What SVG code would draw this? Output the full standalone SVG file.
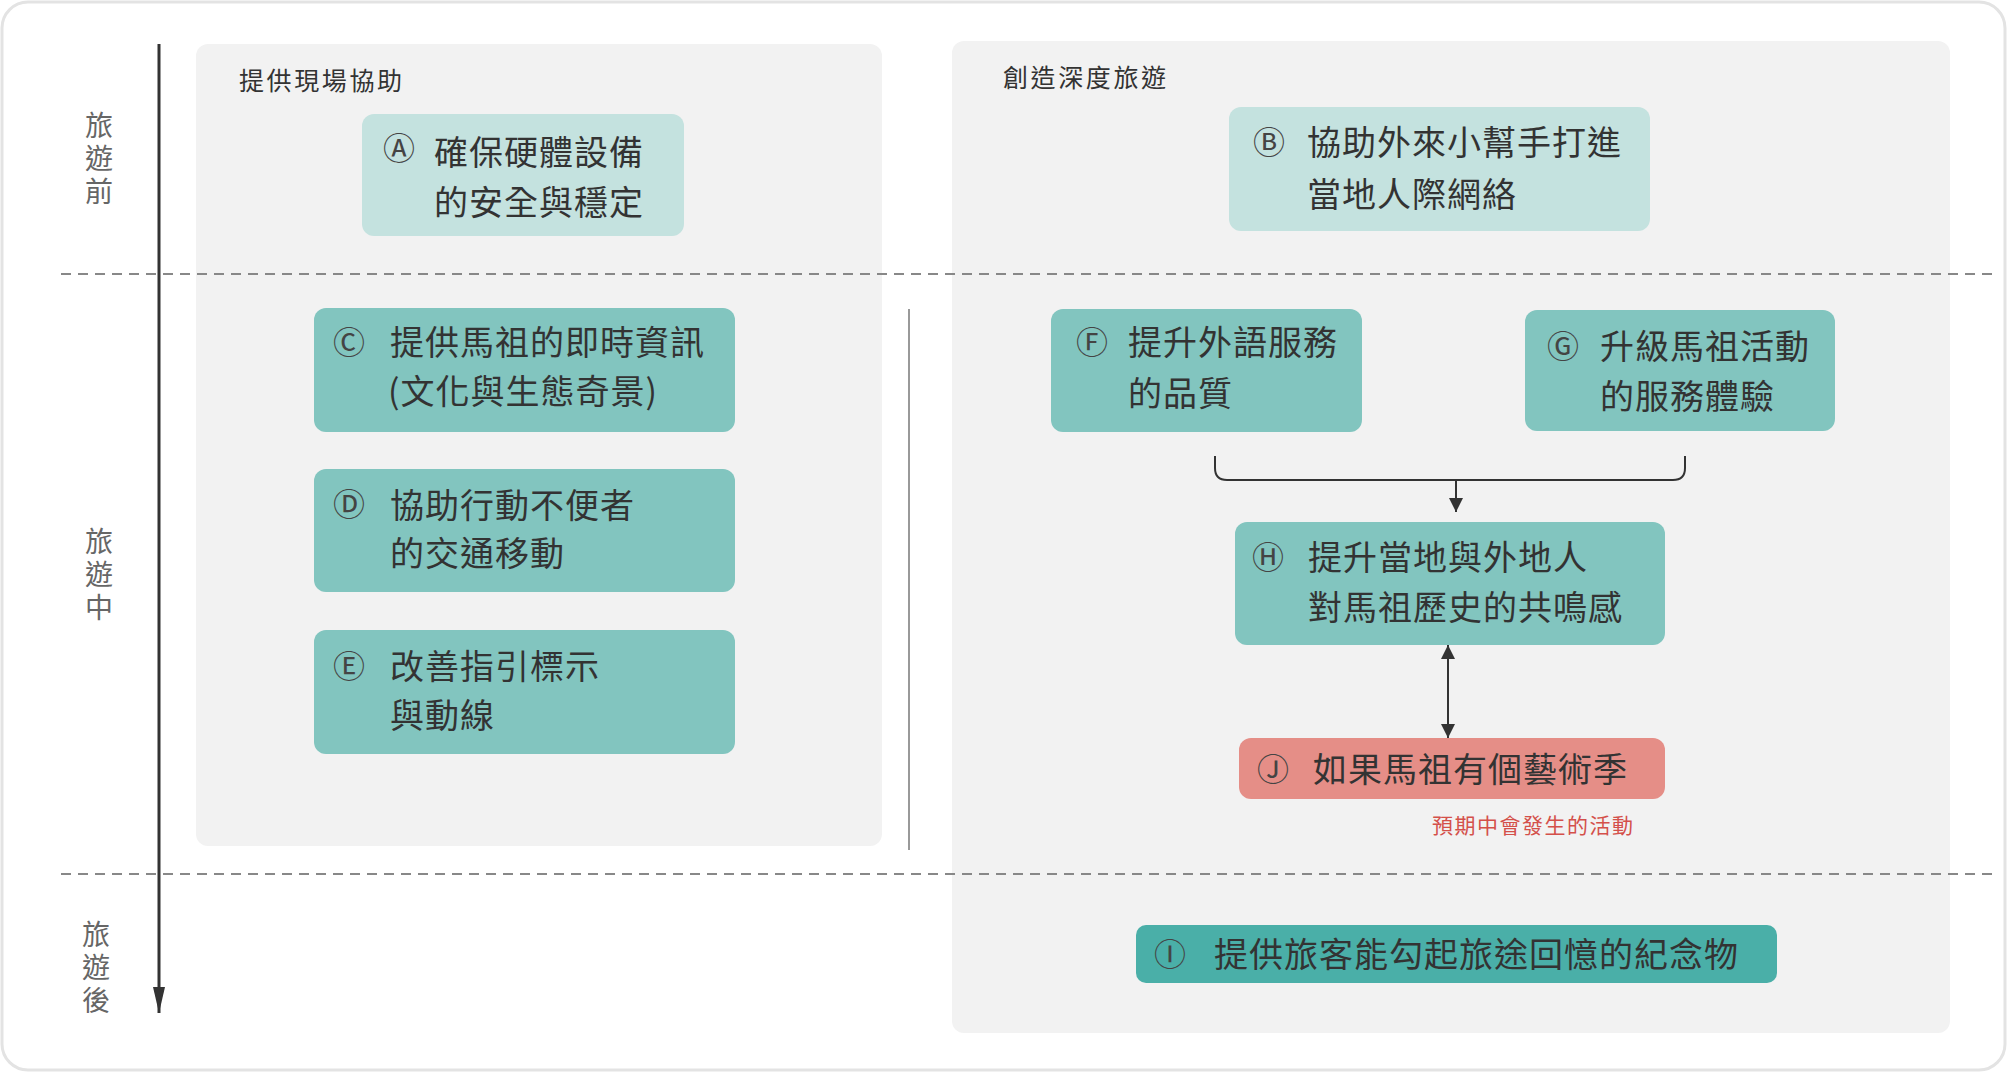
<svg xmlns="http://www.w3.org/2000/svg" width="2007" height="1072" viewBox="0 0 2007 1072">
<defs>
<style>
.t{font-family:"Noto Sans CJK TC","Noto Sans CJK SC",sans-serif;fill:#333;}
.nt{font-size:34px;letter-spacing:1px;dominant-baseline:central;}
.ci{font-size:32px;dominant-baseline:central;fill:#444;}
.ttl{font-size:25px;letter-spacing:2.6px;dominant-baseline:central;}
.vl{font-size:28px;fill:#666;writing-mode:vertical-rl;letter-spacing:5px;}
.panel{fill:#f2f2f2;}
.n1{fill:#c4e2df;}
.n2{fill:#82c5bf;}
.n3{fill:#4aafa8;}
.n4{fill:#e58e87;}
.dash{stroke:#888;stroke-width:2;stroke-dasharray:10 7;fill:none;}
.ln{stroke:#333;stroke-width:2;fill:none;}
</style>
<marker id="ah" viewBox="0 0 10 10" refX="10" refY="5" markerWidth="14" markerHeight="14" markerUnits="userSpaceOnUse" orient="auto-start-reverse">
<path d="M0,0 L10,5 L0,10 Z" fill="#333"/>
</marker>
<marker id="axh" viewBox="0 0 26 12" refX="26" refY="6" markerWidth="26" markerHeight="12" markerUnits="userSpaceOnUse" orient="auto">
<path d="M0,0 L26,6 L0,12 Z" fill="#333"/>
</marker>
</defs>
<rect x="0" y="0" width="2007" height="1072" fill="#fff"/>
<rect x="2" y="2" width="2003" height="1068" rx="26" fill="#fff" stroke="#e3e3e3" stroke-width="3"/>

<g id="panels">
<rect class="panel" x="196" y="44" width="686" height="802" rx="12"/>
<rect class="panel" x="952" y="41" width="998" height="992" rx="12"/>
<text class="t ttl" x="239" y="79">提供現場協助</text>
<text class="t ttl" x="1003" y="76">創造深度旅遊</text>
</g>

<g id="timeline">
<line class="dash" x1="61" y1="274" x2="1997" y2="274"/>
<line class="dash" x1="61" y1="874" x2="1997" y2="874"/>
<line x1="159" y1="44" x2="159" y2="1013" stroke="#333" stroke-width="3" marker-end="url(#axh)"/>
<text class="t vl" x="99" y="111">旅遊前</text>
<text class="t vl" x="99" y="527">旅遊中</text>
<text class="t vl" x="96" y="920">旅遊後</text>
<line x1="909" y1="309" x2="909" y2="850" stroke="#999" stroke-width="2"/>
</g>

<g id="nodeA">
<rect class="n1" x="362" y="114" width="322" height="122" rx="12"/>
<text class="t ci" x="383" y="146">Ⓐ</text>
<text class="t nt" x="434" y="150">確保硬體設備</text>
<text class="t nt" x="434" y="200">的安全與穩定</text>
</g>
<g id="nodeB">
<rect class="n1" x="1229" y="107" width="421" height="124" rx="12"/>
<text class="t ci" x="1253" y="140">Ⓑ</text>
<text class="t nt" x="1307" y="140">協助外來小幫手打進</text>
<text class="t nt" x="1307" y="192">當地人際網絡</text>
</g>
<g id="nodeC">
<rect class="n2" x="314" y="308" width="421" height="124" rx="12"/>
<text class="t ci" x="333" y="340">Ⓒ</text>
<text class="t nt" x="390" y="340">提供馬祖的即時資訊</text>
<text class="t nt" x="388" y="389">(文化與生態奇景)</text>
</g>
<g id="nodeD">
<rect class="n2" x="314" y="469" width="421" height="123" rx="12"/>
<text class="t ci" x="333" y="502">Ⓓ</text>
<text class="t nt" x="390" y="503">協助行動不便者</text>
<text class="t nt" x="390" y="551">的交通移動</text>
</g>
<g id="nodeE">
<rect class="n2" x="314" y="630" width="421" height="124" rx="12"/>
<text class="t ci" x="333" y="664">Ⓔ</text>
<text class="t nt" x="390" y="664">改善指引標示</text>
<text class="t nt" x="390" y="713">與動線</text>
</g>
<g id="nodeF">
<rect class="n2" x="1051" y="309" width="311" height="123" rx="12"/>
<text class="t ci" x="1076" y="340">Ⓕ</text>
<text class="t nt" x="1128" y="340">提升外語服務</text>
<text class="t nt" x="1128" y="391">的品質</text>
</g>
<g id="nodeG">
<rect class="n2" x="1525" y="310" width="310" height="121" rx="12"/>
<text class="t ci" x="1547" y="344">Ⓖ</text>
<text class="t nt" x="1600" y="344">升級馬祖活動</text>
<text class="t nt" x="1600" y="394">的服務體驗</text>
</g>
<g id="nodeH">
<rect class="n2" x="1235" y="522" width="430" height="123" rx="12"/>
<text class="t ci" x="1252" y="555">Ⓗ</text>
<text class="t nt" x="1308" y="555">提升當地與外地人</text>
<text class="t nt" x="1308" y="605">對馬祖歷史的共鳴感</text>
</g>
<g id="nodeJ">
<rect class="n4" x="1239" y="738" width="426" height="61" rx="12"/>
<text class="t ci" x="1257" y="767">Ⓙ</text>
<text class="t nt" x="1313" y="767">如果馬祖有個藝術季</text>
<text class="t" x="1432" y="824" font-size="21" style="fill:#d4504a;dominant-baseline:central;letter-spacing:1.5px">預期中會發生的活動</text>
</g>
<g id="nodeI">
<rect class="n3" x="1136" y="925" width="641" height="58" rx="10"/>
<text class="t ci" x="1154" y="952">Ⓘ</text>
<text class="t nt" x="1214" y="952">提供旅客能勾起旅途回憶的紀念物</text>
</g>

<g id="connectors">
<path class="ln" d="M1215,456 V468 Q1215,480 1227,480 H1673 Q1685,480 1685,468 V456"/>
<line class="ln" x1="1456" y1="480" x2="1456" y2="512" marker-end="url(#ah)"/>
<line class="ln" x1="1448" y1="645" x2="1448" y2="738" marker-start="url(#ah)" marker-end="url(#ah)"/>
</g>
</svg>
